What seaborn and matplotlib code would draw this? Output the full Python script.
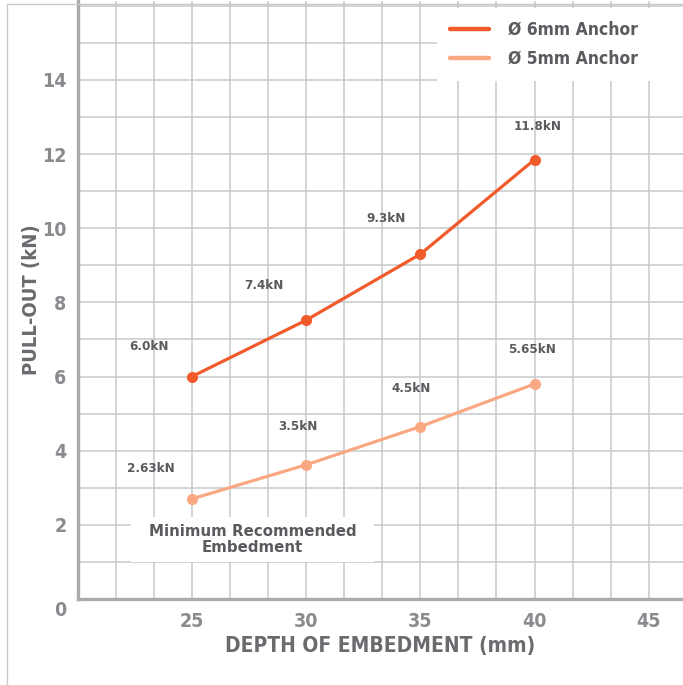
import matplotlib
matplotlib.use("Agg")
import matplotlib.pyplot as plt
import matplotlib.transforms as mtransforms
from matplotlib.ticker import MultipleLocator
from matplotlib.patches import Rectangle
import seaborn as sns
import pandas as pd

# ---- data ----
depth = [25, 30, 35, 40]
pull_6mm = [6.0, 7.52, 9.3, 11.85]
pull_5mm = [2.7, 3.62, 4.65, 5.8]
labels_6mm = ["6.0kN", "7.4kN", "9.3kN", "11.8kN"]
labels_5mm = ["2.63kN", "3.5kN", "4.5kN", "5.65kN"]
series_names = ["Ø 6mm Anchor", "Ø 5mm Anchor"]
x_ticks = [25, 30, 35, 40, 45]
y_ticks = [0, 2, 4, 6, 8, 10, 12, 14]
note_text = "Minimum Recommended\nEmbedment"
x_label = "DEPTH OF EMBEDMENT (mm)"
y_label = "PULL-OUT (kN)"

# label offsets (data units) relative to each point
off_6mm = [(-1.9, 0.8), (-1.85, 0.93), (-1.5, 0.96), (0.14, 0.9)]
off_5mm = [(-1.8, 0.83), (-0.36, 1.03), (-0.42, 1.02), (-0.12, 0.92)]

df = pd.DataFrame({
    "depth": depth * 2,
    "pull": pull_6mm + pull_5mm,
    "series": [series_names[0]] * 4 + [series_names[1]] * 4,
})

sns.set_theme(style="white")
plt.rcParams["font.family"] = ["DejaVu Sans"]
plt.rcParams["font.stretch"] = "condensed"

c6 = "#f15a2b"
c5 = "#f9a882"
grid_c = "#c8c9cb"
spine_c = "#a9abae"
tick_c = "#898b8e"
lab_c = "#6a6b6e"
txt_c = "#5a5b5e"

fig = plt.figure(figsize=(6.83, 6.85), dpi=100)
ax = fig.add_axes([0.1138, 0.1255, 1 - 0.1138, 0.8732])

sns.lineplot(data=df, x="depth", y="pull", hue="series", palette=[c6, c5],
             marker="o", markersize=8, markeredgewidth=0, linewidth=2.3,
             ax=ax, legend=True, zorder=4)

ax.set_xlim(20, 46.5)
ax.set_ylim(0, 16.13)
ax.xaxis.set_minor_locator(MultipleLocator(5 / 3))
ax.yaxis.set_minor_locator(MultipleLocator(1))
ax.set_xticks(x_ticks)
ax.set_yticks(y_ticks)
ax.grid(which="both", color=grid_c, linewidth=1.1)
ax.set_axisbelow(True)

for s in ["top", "right"]:
    ax.spines[s].set_visible(False)
for s in ["left", "bottom"]:
    ax.spines[s].set_color(spine_c)
    ax.spines[s].set_linewidth(2.4)
    ax.spines[s].set_zorder(5)

ax.tick_params(axis="both", which="both", length=0)
ax.tick_params(axis="x", pad=9, labelsize=14, labelcolor=tick_c)
ax.tick_params(axis="y", pad=8, labelsize=14, labelcolor=tick_c)
for t in ax.get_xticklabels() + ax.get_yticklabels():
    t.set_fontweight("bold")
    t.set_fontstretch("condensed")
# shift the "0" label a bit downward like the reference
ylabs = ax.get_yticklabels()
ylabs[0].set_transform(ylabs[0].get_transform() +
                       mtransforms.ScaledTranslation(0, -0.09, fig.dpi_scale_trans))

ax.set_xlabel(x_label, fontsize=15, fontweight="bold", color=lab_c,
              labelpad=4, fontstretch="condensed")
ax.set_ylabel(y_label, fontsize=14.5, fontweight="bold", color=lab_c,
              labelpad=1, fontstretch="condensed")

for xs, ys, labs, offs in [(depth, pull_6mm, labels_6mm, off_6mm),
                           (depth, pull_5mm, labels_5mm, off_5mm)]:
    for x, y, l, (dx, dy) in zip(xs, ys, labs, offs):
        ax.text(x + dx, y + dy, l, ha="center", va="center", fontsize=9.6,
                fontweight="bold", color=txt_c, fontstretch="condensed", zorder=6)

# note with white backing box
note_x, note_y = 27.65, 1.6
ax.add_patch(Rectangle((note_x - 5.32, note_y - 0.6), 10.64, 1.2,
                       facecolor="white", edgecolor="none", zorder=3))
ax.text(note_x, note_y, note_text, ha="center", va="center", fontsize=10.8,
        fontweight="bold", color=txt_c, linespacing=1.12,
        fontstretch="normal", zorder=6)

leg = ax.legend(loc="upper left", bbox_to_anchor=(0.602, 0.0, 0.39, 0.9795),
                mode="expand", frameon=True,
                prop={"size": 12.5, "weight": "bold", "stretch": "condensed"},
                handlelength=2.25, handletextpad=1.1,
                labelspacing=0.62, borderpad=0.45, borderaxespad=0.0)
leg.get_frame().set_facecolor("white")
leg.get_frame().set_edgecolor("none")
leg.get_frame().set_alpha(1)
leg.get_frame().set_boxstyle("square")
for t in leg.get_texts():
    t.set_color(txt_c)
for h in leg.get_lines():
    h.set_marker("")
    h.set_linewidth(3.2)
leg.set_zorder(7)

# thin outer frame
fig.patches.append(Rectangle((6.5 / 683, -0.1), 1.2, 1 - 4 / 685 + 0.1,
                             transform=fig.transFigure, fill=False,
                             edgecolor=grid_c, linewidth=1.0, zorder=0))

fig.savefig("out.png", dpi=100)
